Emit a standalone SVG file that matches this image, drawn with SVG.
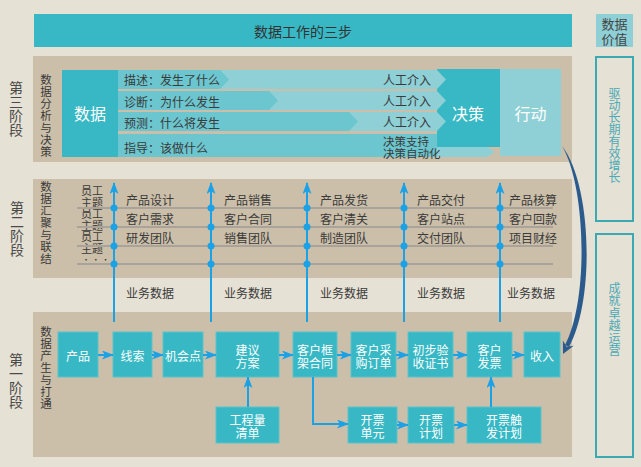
<svg xmlns="http://www.w3.org/2000/svg" width="641" height="467" viewBox="0 0 641 467">
<defs>
<style>
text{font-family:"Noto Sans CJK SC","Noto Sans",sans-serif;dominant-baseline:central}
.v{writing-mode:vertical-rl;text-orientation:upright}
.panel{fill:#cbbfa9}
.teal{fill:#37b8c4}
.light{fill:#8ed0d6}
.mid{fill:#6cc6cf}
.box{fill:#37b8c4;stroke:#5cc3cc;stroke-width:1}
.bt{fill:#ffffff;font-size:12px;text-anchor:middle}
.big{fill:#ffffff;font-size:16px;text-anchor:middle}
.dk{fill:#3a3a3a;font-size:12px}
.sm{fill:#3a3a3a;font-size:11px}
.stage{fill:#4a4a4a;font-size:14px}
.vl{fill:#3a3a3a;font-size:11.5px;letter-spacing:0.5px}
.rt{fill:#4aaab6;font-size:12px}
.outline{fill:none;stroke:#3aa9b4;stroke-width:2}
.grey{stroke:#aaa39a;stroke-width:2;fill:none}
.blue{stroke:#1ba2e6;stroke-width:2;fill:none}
.dot{fill:#1ba2e6}
</style>
<marker id="ah" markerUnits="userSpaceOnUse" markerWidth="12" markerHeight="10" refX="11" refY="4.5" orient="auto">
<path d="M0,0 L12,4.5 L0,9 L3,4.5 Z" fill="#1ba2e6"/>
</marker>
</defs>
<rect x="0" y="0" width="641" height="467" fill="#e6e1d5"/>

<g id="banner">
<rect x="34" y="14" width="538" height="33" class="teal"/>
<text x="303" y="30.5" style="fill:#333;font-size:14px;text-anchor:middle">数据工作的三步</text>
</g>
<g id="value-title">
<rect x="596" y="14" width="37" height="33" class="light"/>
<text x="614.5" y="23" style="fill:#444;font-size:13px;text-anchor:middle">数据</text>
<text x="614.5" y="38" style="fill:#444;font-size:13px;text-anchor:middle">价值</text>
</g>
<g id="value-growth">
<rect x="596" y="57" width="37" height="164" class="outline"/>
<text x="614.5" y="87" class="rt v">驱动长期有效增长</text>
</g>
<g id="value-ops">
<rect x="596" y="234" width="37" height="223" class="outline"/>
<text x="614.5" y="282" class="rt v" style="letter-spacing:0.5px">成就卓越运营</text>
</g>

<!-- Stage 3 -->
<g id="stage3-label">
<text x="16" y="81" class="stage v">第三阶段</text>
</g>
<g id="stage3">
<rect x="33" y="56" width="539" height="106" class="panel"/>
<text x="46" y="74.25" class="vl v">数据分析与决策</text>
</g>
<g id="row-describe">
<polygon points="118,70 437,70 446,79.5 437,89 118,89" class="light"/>
<polygon points="118,70 220,70 229,79.5 220,89 118,89" class="mid"/>
<text x="124" y="79.5" class="dk">描述：发生了什么</text>
<text x="383" y="79.5" class="dk">人工介入</text>
</g>
<g id="row-diagnose">
<polygon points="118,91 437,91 446,100.5 437,110 118,110" class="light"/>
<polygon points="118,91 269,91 278,100.5 269,110 118,110" class="mid"/>
<text x="124" y="101" class="dk">诊断：为什么发生</text>
<text x="383" y="100.5" class="dk">人工介入</text>
</g>
<g id="row-predict">
<polygon points="118,112 437,112 446,121.5 437,131 118,131" class="light"/>
<polygon points="118,112 349,112 358,121.5 349,131 118,131" class="mid"/>
<text x="124" y="122" class="dk">预测：什么将发生</text>
<text x="383" y="121.5" class="dk">人工介入</text>
</g>
<g id="row-guide">
<polygon points="437,147 487,147 495,152 487,157 437,157" class="light"/>
<rect x="118" y="134" width="319" height="23" class="mid"/>
<text x="124" y="147" class="dk">指导：该做什么</text>
</g>
<g id="data">
<rect x="62" y="70" width="56" height="87" class="teal"/>
<text x="90" y="113" class="big">数据</text>
</g>
<g id="decision">
<rect x="437" y="69" width="63" height="78" class="teal"/>
<polygon points="437,70 446,79.5 437,89" class="light"/>
<polygon points="437,91 446,100.5 437,110" class="light"/>
<polygon points="437,112 446,121.5 437,131" class="light"/>
<text x="468" y="113" class="big">决策</text>
<text x="383" y="141" style="fill:#3a3a3a;font-size:11.5px">决策支持</text>
<text x="383" y="153" style="fill:#3a3a3a;font-size:11.5px">决策自动化</text>
</g>
<g id="action">
<rect x="500" y="69" width="61" height="87" class="light"/>
<text x="530.5" y="113" class="big">行动</text>
</g>

<!-- Stage 2 -->
<g id="stage2-label">
<text x="17" y="201" class="stage v">第二阶段</text>
</g>
<g id="stage2">
<rect x="33" y="179" width="539" height="99" class="panel"/>
<text x="46" y="181.25" class="vl v">数据汇聚与联结</text>
<text class="sm"><tspan x="81" y="190">员工</tspan><tspan x="81" y="201.5">主题</tspan><tspan x="81" y="213">员工</tspan><tspan x="81" y="224.5">主题</tspan><tspan x="81" y="236">员工</tspan><tspan x="81" y="247.5">主题</tspan></text>
<text x="82" y="259" style="fill:#3a3a3a;font-size:8px">• • •</text>
</g>
<g id="stage2-grid">
<line x1="77" y1="208" x2="553" y2="208" class="grey"/>
<line x1="77" y1="227" x2="553" y2="227" class="grey"/>
<line x1="77" y1="246" x2="553" y2="246" class="grey"/>
<line x1="77" y1="264" x2="553" y2="264" class="grey"/>
</g>
<g id="stage2-items">
<text x="126" y="199" class="dk">产品设计</text><text x="126" y="218" class="dk">客户需求</text><text x="126" y="237" class="dk">研发团队</text>
<text x="224" y="199" class="dk">产品销售</text><text x="224" y="218" class="dk">客户合同</text><text x="224" y="237" class="dk">销售团队</text>
<text x="320" y="199" class="dk">产品发货</text><text x="320" y="218" class="dk">客户清关</text><text x="320" y="237" class="dk">制造团队</text>
<text x="417" y="199" class="dk">产品交付</text><text x="417" y="218" class="dk">客户站点</text><text x="417" y="237" class="dk">交付团队</text>
<text x="509" y="199" class="dk">产品核算</text><text x="509" y="218" class="dk">客户回款</text><text x="509" y="237" class="dk">项目财经</text>
</g>
<g id="business-data">
<text x="126" y="292" class="dk">业务数据</text>
<text x="224" y="292" class="dk">业务数据</text>
<text x="320" y="292" class="dk">业务数据</text>
<text x="417" y="292" class="dk">业务数据</text>
<text x="507" y="292" class="dk">业务数据</text>
</g>

<!-- Stage 1 -->
<g id="stage1-label">
<text x="16" y="353" class="stage v">第一阶段</text>
</g>
<g id="stage1">
<rect x="33" y="312" width="539" height="145" class="panel"/>
<text x="46" y="326.25" class="vl v">数据产生与打通</text>
</g>
<g id="n-product"><rect x="58" y="332" width="40" height="45" class="box"/><text x="78" y="355" class="bt">产品</text></g>
<g id="n-lead"><rect x="113" y="332" width="39" height="45" class="box"/><text x="132.5" y="355" class="bt">线索</text></g>
<g id="n-opportunity"><rect x="163" y="332" width="40" height="45" class="box"/><text x="183" y="355" class="bt">机会点</text></g>
<g id="n-proposal"><rect x="216" y="332" width="63" height="45" class="box"/><text class="bt"><tspan x="247.5" y="348.5">建议</tspan><tspan x="247.5" y="361.5">方案</tspan></text></g>
<g id="n-frame"><rect x="293" y="332" width="44" height="45" class="box"/><text class="bt"><tspan x="315" y="348.5">客户框</tspan><tspan x="315" y="361.5">架合同</tspan></text></g>
<g id="n-po"><rect x="351" y="332" width="45" height="45" class="box"/><text class="bt"><tspan x="373.5" y="348.5">客户采</tspan><tspan x="373.5" y="361.5">购订单</tspan></text></g>
<g id="n-acceptance"><rect x="408" y="332" width="45" height="45" class="box"/><text class="bt"><tspan x="430.5" y="348.5">初步验</tspan><tspan x="430.5" y="361.5">收证书</tspan></text></g>
<g id="n-invoice"><rect x="467" y="332" width="45" height="45" class="box"/><text class="bt"><tspan x="489.5" y="348.5">客户</tspan><tspan x="489.5" y="361.5">发票</tspan></text></g>
<g id="n-revenue"><rect x="524" y="332" width="36" height="45" class="box"/><text x="542" y="355" class="bt">收入</text></g>
<g id="n-boq"><rect x="216" y="407" width="63" height="36" class="box"/><text class="bt"><tspan x="247.5" y="418.5">工程量</tspan><tspan x="247.5" y="431.5">清单</tspan></text></g>
<g id="n-billunit"><rect x="348" y="407" width="49" height="36" class="box"/><text class="bt"><tspan x="372.5" y="418.5">开票</tspan><tspan x="372.5" y="431.5">单元</tspan></text></g>
<g id="n-billplan"><rect x="408" y="407" width="46" height="36" class="box"/><text class="bt"><tspan x="431" y="418.5">开票</tspan><tspan x="431" y="431.5">计划</tspan></text></g>
<g id="n-trigger"><rect x="467" y="407" width="74" height="36" class="box"/><text class="bt"><tspan x="504" y="418.5">开票触</tspan><tspan x="504" y="431.5">发计划</tspan></text></g>

<g id="connectors">
<line x1="114" y1="322" x2="114" y2="183" class="blue" marker-end="url(#ah)"/>
<line x1="211" y1="322" x2="211" y2="183" class="blue" marker-end="url(#ah)"/>
<line x1="307" y1="322" x2="307" y2="183" class="blue" marker-end="url(#ah)"/>
<line x1="404" y1="322" x2="404" y2="183" class="blue" marker-end="url(#ah)"/>
<line x1="500" y1="322" x2="500" y2="183" class="blue" marker-end="url(#ah)"/>
<g class="dot">
<circle cx="114" cy="208" r="3.5"/><circle cx="114" cy="227" r="3.5"/><circle cx="114" cy="246" r="3.5"/><circle cx="114" cy="264" r="3.5"/>
<circle cx="211" cy="208" r="3.5"/><circle cx="211" cy="227" r="3.5"/><circle cx="211" cy="246" r="3.5"/><circle cx="211" cy="264" r="3.5"/>
<circle cx="307" cy="208" r="3.5"/><circle cx="307" cy="227" r="3.5"/><circle cx="307" cy="246" r="3.5"/><circle cx="307" cy="264" r="3.5"/>
<circle cx="404" cy="208" r="3.5"/><circle cx="404" cy="227" r="3.5"/><circle cx="404" cy="246" r="3.5"/><circle cx="404" cy="264" r="3.5"/>
<circle cx="500" cy="208" r="3.5"/><circle cx="500" cy="227" r="3.5"/><circle cx="500" cy="246" r="3.5"/><circle cx="500" cy="264" r="3.5"/>
</g>
<line x1="98" y1="355" x2="113" y2="355" class="blue" marker-end="url(#ah)"/>
<line x1="152" y1="355" x2="163" y2="355" class="blue" marker-end="url(#ah)"/>
<line x1="203" y1="355" x2="216" y2="355" class="blue" marker-end="url(#ah)"/>
<line x1="279" y1="355" x2="293" y2="355" class="blue" marker-end="url(#ah)"/>
<line x1="337" y1="355" x2="351" y2="355" class="blue" marker-end="url(#ah)"/>
<line x1="396" y1="355" x2="408" y2="355" class="blue" marker-end="url(#ah)"/>
<line x1="453" y1="355" x2="467" y2="355" class="blue" marker-end="url(#ah)"/>
<line x1="512" y1="355" x2="524" y2="355" class="blue" marker-end="url(#ah)"/>
<line x1="248" y1="407" x2="248" y2="377" class="blue" marker-end="url(#ah)"/>
<line x1="491" y1="407" x2="491" y2="377" class="blue" marker-end="url(#ah)"/>
<polyline points="313,377 313,424 348,424" class="blue" marker-end="url(#ah)"/>
<line x1="397" y1="425" x2="408" y2="425" class="blue" marker-end="url(#ah)"/>
<line x1="454" y1="425" x2="467" y2="425" class="blue" marker-end="url(#ah)"/>
<g id="value-curve" fill="#2b5b8c">
<path d="M562,146 C586,186 589,300 565,345 L569,347 C595,300 592,184 562,146 Z"/>
<polygon points="563,354 562.9,340.6 566.5,346.8 573.7,345.8"/>
</g>
</g>
</svg>
